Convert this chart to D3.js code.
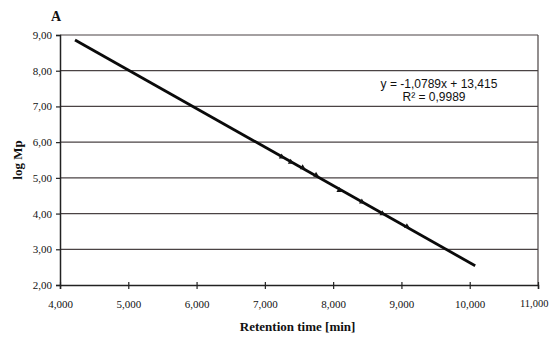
<!DOCTYPE html>
<html>
<head>
<meta charset="utf-8">
<script src="https://cdn.jsdelivr.net/npm/d3@7"></script>
<style>
	body { margin: 0; background: #fff; }
	svg { display: block; }
</style>
</head>
<body>
<div id="chart"></div>
<script>
(function () {

	'use strict';

	// calibration standards (retention time, log Mp)
	let retentionTimes = [7.246, 7.378, 7.553, 7.75, 8.09, 8.42, 8.72, 9.08];
	let logMp = [5.59, 5.44, 5.29, 5.08, 4.65, 4.33, 4.00, 3.64];

	// fitted line y = slope * x + intercept, drawn over this x range
	let slope = -1.0789;
	let intercept = 13.415;
	let fitRange = [4.22, 10.08];

	let xTicks = [4, 5, 6, 7, 8, 9, 10, 11];
	let yTicks = [2, 3, 4, 5, 6, 7, 8, 9];
	let equationLines = ['y = -1,0789x + 13,415', 'R² = 0,9989'];

	let width = 550, height = 338;
	let margin = {top: 35, right: 12, bottom: 53, left: 60};
	let plotW = width - margin.left - margin.right;
	let plotH = height - margin.top - margin.bottom;

	let svg = d3.select('#chart').append('svg')
		.attr('width', width)
		.attr('height', height);

	let x = d3.scaleLinear().domain([4, 11]).range([0, plotW]);
	let y = d3.scaleLinear().domain([2, 9]).range([plotH, 0]);

	let g = svg.append('g')
		.attr('transform', 'translate(' + margin.left + ',' + margin.top + ')');

	let fmtX = function (d) { return d3.format('.3f')(d).replace('.', ','); };
	let fmtY = function (d) { return d3.format('.2f')(d).replace('.', ','); };

	// horizontal gridlines
	g.selectAll('line.grid')
		.data(yTicks.slice(1))
		.enter().append('line')
		.attr('class', 'grid')
		.attr('x1', 0)
		.attr('x2', plotW)
		.attr('y1', function (d) { return y(d); })
		.attr('y2', function (d) { return y(d); })
		.attr('stroke', '#4a4344')
		.attr('stroke-width', 1.2);

	// right border
	g.append('line')
		.attr('x1', plotW).attr('x2', plotW)
		.attr('y1', 0).attr('y2', plotH)
		.attr('stroke', '#4a4344')
		.attr('stroke-width', 1.2);

	// axes
	let xAxis = g.append('g')
		.attr('transform', 'translate(0,' + plotH + ')')
		.call(d3.axisBottom(x).tickValues(xTicks).tickFormat(fmtX).tickSize(4).tickPadding(11));

	let yAxis = g.append('g')
		.call(d3.axisLeft(y).tickValues(yTicks).tickFormat(fmtY).tickSize(4).tickPadding(4));

	[xAxis, yAxis].forEach(function (a) {
		a.select('.domain').attr('stroke', '#222').attr('stroke-width', 1.5);
		a.selectAll('.tick line').attr('stroke', '#222').attr('stroke-width', 1.2);
		a.selectAll('.tick text')
			.attr('fill', '#111')
			.style('font-family', '"Liberation Serif", "DejaVu Serif", serif')
			.style('font-size', '11px');
	});
	xAxis.selectAll('.tick line').attr('y1', -3);
	// keep the last label inside the page
	xAxis.selectAll('.tick text')
		.filter(function (d) { return d === 11; })
		.attr('text-anchor', 'end')
		.attr('dx', 10)
		.style('font-size', '10.5px');

	// fitted line
	g.append('line')
		.attr('x1', x(fitRange[0]))
		.attr('y1', y(slope * fitRange[0] + intercept))
		.attr('x2', x(fitRange[1]))
		.attr('y2', y(slope * fitRange[1] + intercept))
		.attr('stroke', '#0a0a0a')
		.attr('stroke-width', 2.8);

	// data markers
	let tri = d3.symbol().type(d3.symbolTriangle).size(14);
	g.selectAll('path.pt')
		.data(retentionTimes)
		.enter().append('path')
		.attr('class', 'pt')
		.attr('d', tri)
		.attr('transform', function (d, i) {
			return 'translate(' + x(d) + ',' + y(logMp[i]) + ')';
		})
		.attr('fill', '#111');

	// equation label
	let eq = svg.append('text')
		.attr('text-anchor', 'middle')
		.style('font-family', '"Liberation Sans", Arial, sans-serif')
		.style('font-size', '12px')
		.attr('fill', '#111');
	eq.append('tspan').attr('x', 439).attr('y', 88).text(equationLines[0]);
	eq.append('tspan').attr('x', 434).attr('y', 101).text(equationLines[1]);

	// panel letter
	svg.append('text')
		.attr('x', 51).attr('y', 21)
		.style('font-family', '"Liberation Serif", serif')
		.style('font-weight', 'bold')
		.style('font-size', '14px')
		.attr('fill', '#111')
		.text('A');

	// axis titles
	svg.append('text')
		.attr('x', margin.left + x(7.48))
		.attr('y', 331)
		.attr('text-anchor', 'middle')
		.style('font-family', '"Liberation Serif", serif')
		.style('font-weight', 'bold')
		.style('font-size', '13px')
		.attr('fill', '#111')
		.text('Retention time [min]');

	svg.append('text')
		.attr('transform', 'translate(22,' + (margin.top + y(5.5)) + ') rotate(-90)')
		.attr('text-anchor', 'middle')
		.style('font-family', '"Liberation Serif", serif')
		.style('font-weight', 'bold')
		.style('font-size', '13px')
		.attr('fill', '#111')
		.text('log Mp');

})();
</script>
</body>
</html>
